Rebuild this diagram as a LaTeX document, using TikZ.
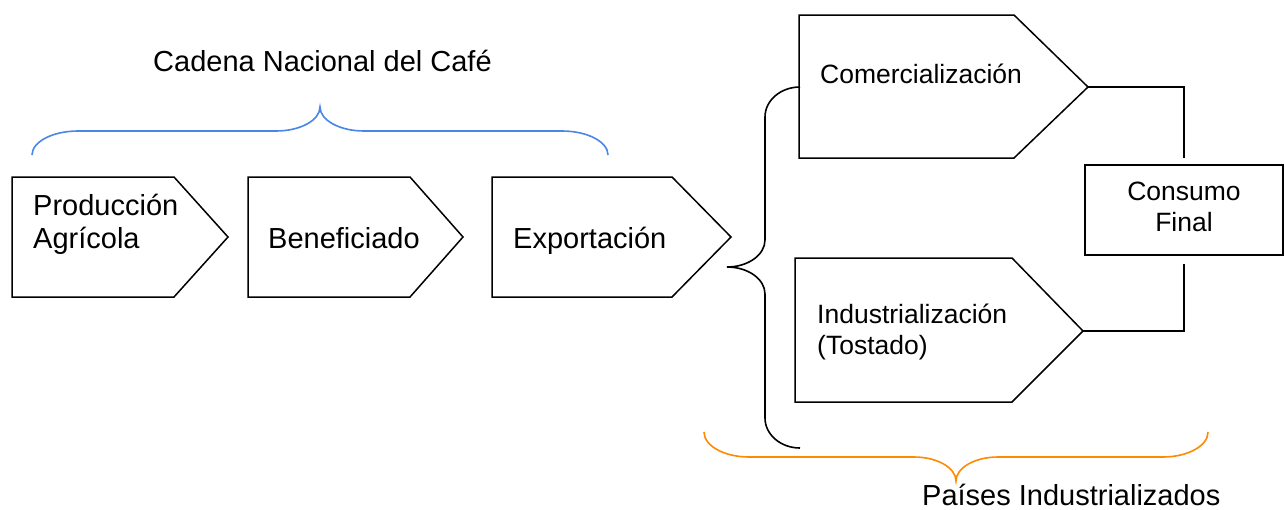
\documentclass[tikz,border=0pt]{standalone}
\usepackage{fontspec}
\setmainfont{Liberation Sans}
\definecolor{braceblue}{RGB}{74,134,232}
\definecolor{braceorange}{RGB}{255,137,0}
\tikzset{
  chev/.style={draw=black, line width=1.5pt, line join=miter},
  link/.style={draw=black, line width=1.5pt},
  bracebl/.style={draw=braceblue, line width=1.6pt},
  braceor/.style={draw=braceorange, line width=1.6pt},
  bracebk/.style={draw=black, line width=1.6pt},
  lbl/.style={inner sep=0pt, font=\fontsize{29}{33}\selectfont},
  lbls/.style={inner sep=0pt, font=\fontsize{26.5}{31.5}\selectfont},
  cfbox/.style={draw=black, line width=1.5pt, minimum width=198pt, minimum height=90pt, inner sep=0pt},
}
\begin{document}
\begin{tikzpicture}[x=1pt,y=-1pt]
\useasboundingbox (0,0) rectangle (1285,509);

% chevrons of the national chain
\draw[chev] (12,177) -- (174,177) -- (228,237) coordinate (p1tip) -- (174,297) -- (12,297) -- cycle;
\draw[chev] (248,177) -- (410,177) -- (463,237) coordinate (p2tip) -- (410,297) -- (248,297) -- cycle;
\draw[chev] (492,177) -- (672,177) -- (731,237) coordinate (p3tip) -- (672,297) -- (492,297) -- cycle;

% chevrons of the industrialized countries
\draw[chev] (799,15) -- (1014,15) -- (1088,87) coordinate (comtip) -- (1014,158) -- (799,158) -- cycle;
\draw[chev] (795,258) -- (1012,258) -- (1083,331) coordinate (indtip) -- (1012,402) -- (795,402) -- cycle;

% consumo final box
\node[cfbox] (cf) at (1184,210) {};

% connectors
\draw[link, shorten >=6pt] (comtip) -| (cf.north);
\draw[link, shorten <=8pt] (cf.south) |- (indtip);

% texts
\node[lbl, anchor=base] (tcadena) at (322.5,71) {Cadena Nacional del Café};
\node[lbl, anchor=base west] (tpaises) at (922,505) {Países Industrializados};
\node[lbl, anchor=base west] (tprod) at (33,215) {\begin{tabular}[t]{@{}l@{}}Producción\\Agrícola\end{tabular}};
\node[lbl, anchor=base west] (tbenef) at (268,248) {Beneficiado};
\node[lbl, anchor=base west] (texport) at (513,248) {Exportación};
\node[lbls, anchor=base west] (tcomer) at (820,83) {Comercialización};
\node[lbls, anchor=base west] (tindus) at (817,323) {\begin{tabular}[t]{@{}l@{}}Industrialización\\(Tostado)\end{tabular}};
\node[lbls, anchor=base] (tcons) at (1184,200) {\fontsize{26.5}{31}\selectfont\begin{tabular}[t]{@{}c@{}}Consumo\\Final\end{tabular}};

% blue brace
\draw[bracebl] (32,155) .. controls (32,141.8) and (52.6,131) .. (78,131) -- (276,131)
  .. controls (300.3,131) and (320,120.2) .. (320,107)
  .. controls (320,120.2) and (339.7,131) .. (364,131) -- (562,131)
  .. controls (587.4,131) and (608,141.8) .. (608,155);

% orange brace
\draw[braceor] (704,432) .. controls (704,445.8) and (724.2,457) .. (749,457) -- (914,457)
  .. controls (937.2,457) and (956,467.8) .. (956,481)
  .. controls (956,467.8) and (974.8,457) .. (998,457) -- (1163,457)
  .. controls (1187.8,457) and (1208,445.8) .. (1208,432);

% black brace
\draw[bracebk] (800,87) .. controls (780.7,87) and (765,100.4) .. (765,117) -- (765,240)
  .. controls (765,254.9) and (748,267) .. (727,267)
  .. controls (748,267) and (765,279.1) .. (765,294) -- (765,418)
  .. controls (765,434.6) and (780.7,448) .. (800,448);
\end{tikzpicture}
\end{document}
